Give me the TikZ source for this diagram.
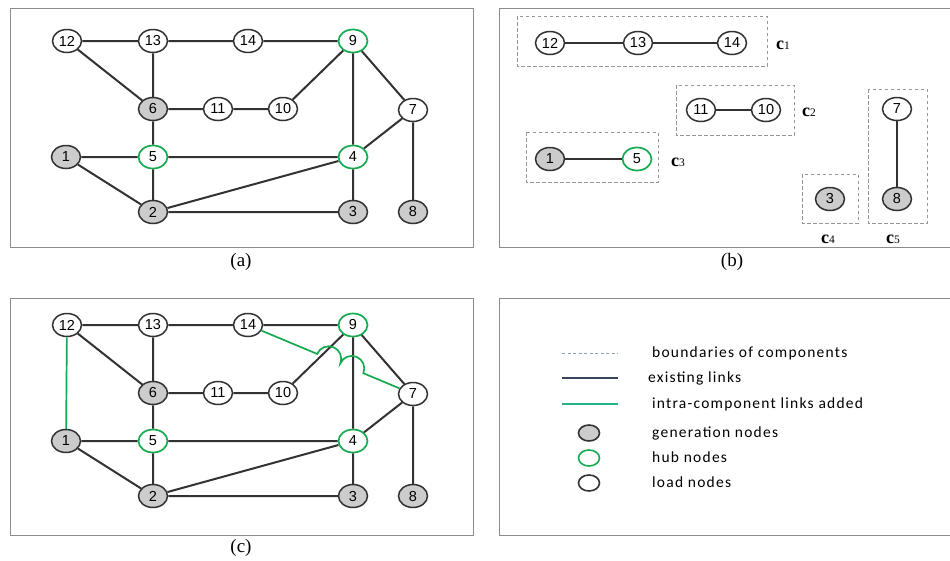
\documentclass[tikz,border=0pt]{standalone}
\usepackage{fontspec}
\usetikzlibrary{shapes.geometric,calc}
\newfontfamily\nf{Liberation Sans}
\newfontfamily\lblf{Liberation Serif}
\newfontfamily\lgf[LetterSpace=8]{Carlito}
\definecolor{edgec}{RGB}{50,50,50}
\definecolor{genfill}{RGB}{204,204,204}
\definecolor{hubg}{RGB}{20,170,80}
\definecolor{frame}{RGB}{140,140,140}
\definecolor{dashc}{RGB}{150,150,150}
\definecolor{legdark}{RGB}{55,70,90}
\definecolor{legteal}{RGB}{35,178,135}
\definecolor{legdash}{RGB}{140,160,180}
\tikzset{
  nd/.style={ellipse, draw=edgec, line width=1.5pt, minimum width=29pt, minimum height=23pt, inner sep=0pt, font=\nf\fontsize{14.5}{15}\selectfont},
  gen/.style={nd, fill=genfill},
  hub/.style={nd, draw=hubg, line width=1.7pt},
  lnk/.style={draw=edgec, line width=2pt},
  addl/.style={draw=hubg, line width=1.7pt},
  panel/.style={draw=frame, line width=0.8pt},
  comp/.style={draw=dashc, line width=0.9pt, dash pattern=on 3.5pt off 2.5pt},
  captxt/.style={font=\lblf\fontsize{19}{20}\selectfont},
  clab/.style={font=\lblf\fontsize{18}{18}\selectfont, anchor=base},
  lgtext/.style={anchor=west, font=\lgf\fontsize{15.5}{16}\selectfont, text height=11pt, text depth=3pt, inner sep=0pt},
  lgnode/.style={ellipse, minimum width=21pt, minimum height=16pt, inner sep=0pt, line width=1.6pt}
}
\newcommand\cl[1]{\textbf{c}{\fontsize{11.5}{12}\selectfont #1}}
\newcommand\basegraph{%
  \node[nd]  (12) at (67,41) {12};
  \node[nd]  (13) at (153,41) {13};
  \node[nd]  (14) at (248,41) {14};
  \node[hub] (9)  at (353,41) {9};
  \node[gen] (6)  at (153,109) {6};
  \node[nd]  (11) at (218,109) {11};
  \node[nd]  (10) at (283,109) {10};
  \node[nd]  (7)  at (413,110) {7};
  \node[gen] (1)  at (66,157) {1};
  \node[hub] (5)  at (153,157) {5};
  \node[hub] (4)  at (353,157) {4};
  \node[gen] (2)  at (153,212) {2};
  \node[gen] (3)  at (353,212) {3};
  \node[gen] (8)  at (413,212) {8};
  \draw[lnk] (12)--(13) (13)--(14) (14)--(9) (12)--(6) (13)--(6) (6)--(11) (11)--(10)
    (10)--(9) (9)--(4) (9)--(7) (7)--(4) (7)--(8) (6)--(5) (1)--(5) (5)--(4)
    (1)--(2) (5)--(2) (2)--(4) (2)--(3) (4)--(3);
}
\begin{document}
\begin{tikzpicture}[x=1pt,y=-1pt]
\useasboundingbox (0,0) rectangle (950,560);
% panel frames
\draw[panel] (10,8) rectangle (473,247);
\draw[panel] (10,298) rectangle (473,535);
\draw[panel] (950,8) -- (499,8) -- (499,247) -- (950,247);
\draw[panel] (950,298) -- (499,298) -- (499,535) -- (950,535);
% captions
\node[captxt] (capa) at (241,262) {(a)};
\node[captxt] (capb) at (732,262) {(b)};
\node[captxt] (capc) at (241,548) {(c)};
% (a)
\begin{scope}[name prefix=a-]
\basegraph
\end{scope}
% (c)
\begin{scope}[name prefix=c-, yshift=-284pt]
\basegraph
\draw[addl] (12) -- (1);
\draw[addl] (14) -- ($(14.center)!75pt!(7.center)$)
  arc[start angle=157.31, end angle=-22.69, radius=12.5pt]
  arc[start angle=157.31, end angle=-22.69, radius=12.5pt] -- (7);
\end{scope}
% (b)
\begin{scope}[name prefix=b-]
\node[nd]  (12) at (550,43) {12};
\node[nd]  (13) at (638,43) {13};
\node[nd]  (14) at (732,43) {14};
\node[nd]  (11) at (701,110) {11};
\node[nd]  (10) at (766,110) {10};
\node[gen] (1)  at (550,159) {1};
\node[hub] (5)  at (637,159) {5};
\node[gen] (3)  at (830,199) {3};
\node[nd]  (7)  at (897,109) {7};
\node[gen] (8)  at (897,199) {8};
\draw[lnk] (12)--(13) (13)--(14) (11)--(10) (1)--(5) (7)--(8);
\draw[comp] (517,16) rectangle (767,66);
\draw[comp] (676,85) rectangle (794,135);
\draw[comp] (526,132) rectangle (658,182);
\draw[comp] (802,174) rectangle (858,223);
\draw[comp] (868,89) rectangle (927,223);
\node[clab] (c1) at (783,49) {\cl{1}};
\node[clab] (c2) at (809,116) {\cl{2}};
\node[clab] (c3) at (678,166) {\cl{3}};
\node[clab] (c4) at (828,243) {\cl{4}};
\node[clab] (c5) at (893,243) {\cl{5}};
\end{scope}
% legend
\coordinate (l1a) at (562,353); \coordinate (l1b) at (618,353);
\coordinate (l2a) at (562,378); \coordinate (l2b) at (618,378);
\coordinate (l3a) at (562,404); \coordinate (l3b) at (618,404);
\draw[draw=legdash, line width=0.8pt, dash pattern=on 3pt off 2.5pt] (l1a) -- (l1b);
\draw[draw=legdark, line width=1.8pt] (l2a) -- (l2b);
\draw[draw=legteal, line width=1.8pt] (l3a) -- (l3b);
\node[lgnode, draw=edgec, fill=genfill] (lg1) at (589,433) {};
\node[lgnode, draw=hubg] (lg2) at (589,458) {};
\node[lgnode, draw=edgec] (lg3) at (589,483) {};
\node[lgtext] (t1) at (652,353) {boundaries of components};
\node[lgtext] (t2) at (648,378) {existing links};
\node[lgtext] (t3) at (652,404) {intra-component links added};
\node[lgtext] (t4) at (652,433) {generation nodes};
\node[lgtext] (t5) at (652,458) {hub nodes};
\node[lgtext] (t6) at (652,483) {load nodes};
\end{tikzpicture}
\end{document}
